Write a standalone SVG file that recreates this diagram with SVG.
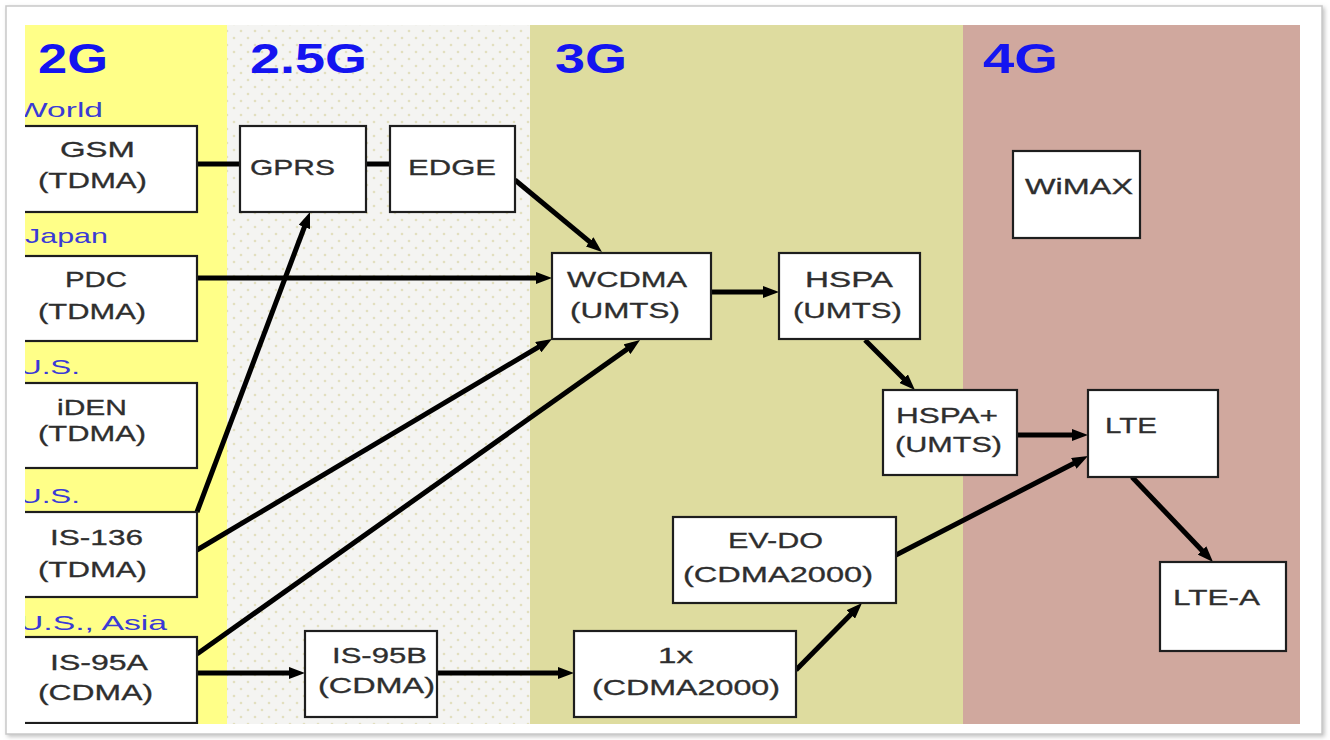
<svg xmlns="http://www.w3.org/2000/svg" width="1330" height="740" viewBox="0 0 1330 740">
  <defs>
    <style>
      .box { fill: #ffffff; stroke: #1e1e1e; stroke-width: 2.2; }
      .t { font-family: "Liberation Sans", Arial, sans-serif; font-size: 22px; fill: #2e2e2e; stroke: #2e2e2e; stroke-width: 0.3; }
      .hdr { font-family: "Liberation Sans", Arial, sans-serif; font-size: 42px; font-weight: bold; fill: #1414f0; }
      .reg { font-family: "Liberation Sans", Arial, sans-serif; font-size: 21px; fill: #3a3ad6; }
      .con { stroke: #000; stroke-width: 5; fill: none; }
      .arr { marker-end: url(#ah); }
    </style>
    <marker id="ah" viewBox="0 0 16 12" refX="8" refY="6" markerWidth="16" markerHeight="12" markerUnits="userSpaceOnUse" orient="auto">
      <path d="M0,0 L16,6 L0,12 z" fill="#000"/>
    </marker>
    <pattern id="dots" width="14" height="14" patternUnits="userSpaceOnUse">
      <rect width="14" height="14" fill="#f4f4f2"/>
      <circle cx="3" cy="3" r="1.3" fill="#e2dfbf"/>
      <circle cx="10" cy="10" r="1.3" fill="#e2dfbf"/>
    </pattern>
    <clipPath id="area">
      <rect x="25" y="25" width="1275" height="699"/>
    </clipPath>
    <filter id="sh" x="-5%" y="-5%" width="110%" height="110%">
      <feDropShadow dx="2" dy="2" stdDeviation="2" flood-color="#999" flood-opacity="0.6"/>
    </filter>
  </defs>

  <rect x="0" y="0" width="1330" height="740" fill="#ffffff"/>
  <rect x="6" y="6" width="1316" height="728" fill="#ffffff" stroke="#c9c9c9" stroke-width="1.5" filter="url(#sh)"/>

  <g id="bands" clip-path="url(#area)">
    <rect x="25" y="25" width="202" height="699" fill="#ffff88"/>
    <rect x="227" y="25" width="303" height="699" fill="url(#dots)"/>
    <rect x="530" y="25" width="433" height="699" fill="#dedc9f"/>
    <rect x="963" y="25" width="337" height="699" fill="#d0a89e"/>
  </g>

  <g id="headers">
    <text class="hdr" x="38" y="73" textLength="70" lengthAdjust="spacingAndGlyphs">2G</text>
    <text class="hdr" x="250" y="73" textLength="117" lengthAdjust="spacingAndGlyphs">2.5G</text>
    <text class="hdr" x="555" y="73" textLength="72" lengthAdjust="spacingAndGlyphs">3G</text>
    <text class="hdr" x="983" y="73" textLength="75" lengthAdjust="spacingAndGlyphs">4G</text>
  </g>

  <g id="regions" clip-path="url(#area)">
    <text class="reg" x="16" y="117" textLength="87" lengthAdjust="spacingAndGlyphs">World</text>
    <text class="reg" x="25" y="243" textLength="83" lengthAdjust="spacingAndGlyphs">Japan</text>
    <text class="reg" x="19" y="374" textLength="61" lengthAdjust="spacingAndGlyphs">U.S.</text>
    <text class="reg" x="19" y="503" textLength="61" lengthAdjust="spacingAndGlyphs">U.S.</text>
    <text class="reg" x="19" y="630" textLength="148" lengthAdjust="spacingAndGlyphs">U.S., Asia</text>
  </g>

  <g id="connectors">
    <line class="con" x1="197" y1="164" x2="240" y2="164"/>
    <line class="con" x1="366" y1="164" x2="390" y2="164"/>
    <line class="con arr" x1="515" y1="180" x2="595.8" y2="246.9"/>
    <line class="con arr" x1="197" y1="278" x2="544" y2="278"/>
    <line class="con arr" x1="197" y1="512" x2="307.2" y2="219.5"/>
    <line class="con arr" x1="197" y1="550" x2="545.1" y2="343.1"/>
    <line class="con arr" x1="197" y1="654" x2="633.5" y2="344.6"/>
    <line class="con arr" x1="197" y1="673" x2="297" y2="673"/>
    <line class="con arr" x1="437" y1="673" x2="566" y2="673"/>
    <line class="con arr" x1="796" y1="670" x2="856.4" y2="608.7"/>
    <line class="con arr" x1="711" y1="292" x2="771" y2="292"/>
    <line class="con arr" x1="865" y1="340" x2="909.3" y2="384.3"/>
    <line class="con arr" x1="1017" y1="435" x2="1080" y2="435"/>
    <line class="con arr" x1="896" y1="555" x2="1080.9" y2="459.7"/>
    <line class="con arr" x1="1132" y1="477" x2="1207.5" y2="556.2"/>
  </g>

  <g clip-path="url(#area)">
    <g id="gsm">
      <rect class="box" x="20" y="126" width="177" height="86"/>
      <text class="t" x="60" y="157" textLength="75" lengthAdjust="spacingAndGlyphs">GSM</text>
      <text class="t" x="38" y="188" textLength="109" lengthAdjust="spacingAndGlyphs">(TDMA)</text>
    </g>
    <g id="pdc">
      <rect class="box" x="20" y="256" width="177" height="85"/>
      <text class="t" x="65" y="287" textLength="62" lengthAdjust="spacingAndGlyphs">PDC</text>
      <text class="t" x="38" y="319" textLength="108" lengthAdjust="spacingAndGlyphs">(TDMA)</text>
    </g>
    <g id="iden">
      <rect class="box" x="20" y="383" width="177" height="85"/>
      <text class="t" x="57" y="415" textLength="70" lengthAdjust="spacingAndGlyphs">iDEN</text>
      <text class="t" x="38" y="441" textLength="108" lengthAdjust="spacingAndGlyphs">(TDMA)</text>
    </g>
    <g id="is136">
      <rect class="box" x="20" y="512" width="177" height="85"/>
      <text class="t" x="50" y="545" textLength="93" lengthAdjust="spacingAndGlyphs">IS-136</text>
      <text class="t" x="38" y="577" textLength="109" lengthAdjust="spacingAndGlyphs">(TDMA)</text>
    </g>
    <g id="is95a">
      <rect class="box" x="20" y="637" width="177" height="86"/>
      <text class="t" x="50" y="670" textLength="98" lengthAdjust="spacingAndGlyphs">IS-95A</text>
      <text class="t" x="38" y="700" textLength="115" lengthAdjust="spacingAndGlyphs">(CDMA)</text>
    </g>
  </g>

  <g id="gprs">
    <rect class="box" x="240" y="126" width="126" height="86"/>
    <text class="t" x="250" y="175" textLength="85" lengthAdjust="spacingAndGlyphs">GPRS</text>
  </g>
  <g id="edge">
    <rect class="box" x="390" y="126" width="125" height="86"/>
    <text class="t" x="408" y="175" textLength="88" lengthAdjust="spacingAndGlyphs">EDGE</text>
  </g>
  <g id="is95b">
    <rect class="box" x="305" y="631" width="132" height="86"/>
    <text class="t" x="332" y="663" textLength="95" lengthAdjust="spacingAndGlyphs">IS-95B</text>
    <text class="t" x="318" y="693" textLength="117" lengthAdjust="spacingAndGlyphs">(CDMA)</text>
  </g>
  <g id="wcdma">
    <rect class="box" x="552" y="253" width="159" height="86"/>
    <text class="t" x="567" y="287" textLength="120" lengthAdjust="spacingAndGlyphs">WCDMA</text>
    <text class="t" x="570" y="318" textLength="110" lengthAdjust="spacingAndGlyphs">(UMTS)</text>
  </g>
  <g id="hspa">
    <rect class="box" x="779" y="253" width="141" height="86"/>
    <text class="t" x="805" y="287" textLength="88" lengthAdjust="spacingAndGlyphs">HSPA</text>
    <text class="t" x="793" y="318" textLength="109" lengthAdjust="spacingAndGlyphs">(UMTS)</text>
  </g>
  <g id="hspaplus">
    <rect class="box" x="883" y="390" width="134" height="85"/>
    <text class="t" x="896" y="423" textLength="102" lengthAdjust="spacingAndGlyphs">HSPA+</text>
    <text class="t" x="895" y="452" textLength="107" lengthAdjust="spacingAndGlyphs">(UMTS)</text>
  </g>
  <g id="evdo">
    <rect class="box" x="673" y="517" width="223" height="86"/>
    <text class="t" x="728" y="548" textLength="95" lengthAdjust="spacingAndGlyphs">EV-DO</text>
    <text class="t" x="683" y="582" textLength="190" lengthAdjust="spacingAndGlyphs">(CDMA2000)</text>
  </g>
  <g id="onex">
    <rect class="box" x="574" y="631" width="222" height="86"/>
    <text class="t" x="658" y="663" textLength="35" lengthAdjust="spacingAndGlyphs">1x</text>
    <text class="t" x="592" y="695" textLength="188" lengthAdjust="spacingAndGlyphs">(CDMA2000)</text>
  </g>
  <g id="wimax">
    <rect class="box" x="1013" y="151" width="127" height="87"/>
    <text class="t" x="1025" y="194" textLength="108" lengthAdjust="spacingAndGlyphs">WiMAX</text>
  </g>
  <g id="lte">
    <rect class="box" x="1088" y="390" width="130" height="87"/>
    <text class="t" x="1105" y="433" textLength="52" lengthAdjust="spacingAndGlyphs">LTE</text>
  </g>
  <g id="ltea">
    <rect class="box" x="1160" y="562" width="126" height="89"/>
    <text class="t" x="1173" y="605" textLength="87" lengthAdjust="spacingAndGlyphs">LTE-A</text>
  </g>
</svg>
